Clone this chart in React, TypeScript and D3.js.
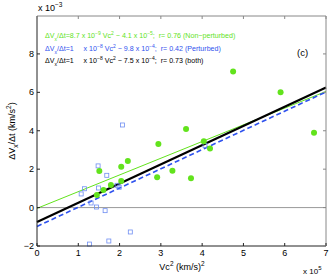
import { useRef, useEffect } from 'react'
import * as d3 from 'd3'

// x in units of 1e5 (km/s)^2, y in units of 1e-3 km/s^2
const greenX = [4.75, 5.9, 3.61, 6.71, 2.94, 4.04, 4.19, 2.2, 2.04, 1.51, 3.28, 2.91, 3.73, 2.04, 1.79, 1.61, 1.45]
const greenY = [7.08, 6.0, 4.09, 3.9, 3.31, 3.45, 3.07, 2.43, 2.13, 1.91, 1.92, 1.58, 1.53, 1.39, 1.18, 0.92, 0.66]
const blueX = [2.07, 1.48, 1.69, 1.15, 1.49, 1.07, 1.94, 1.99, 4.07, 1.31, 1.44, 1.65, 2.26, 1.27, 1.74]
const blueY = [4.3, 2.17, 1.68, 0.98, 1.02, 0.71, 1.16, 1.06, 3.24, 0.24, 0.03, -0.16, -1.27, -1.9, -1.74]

// fits: slope (1e-3 per 1e5) and intercept (1e-3)
const fitNames = ['green', 'blue', 'black']
const fitSlope = [0.87, 1.0, 1.0]
const fitIntercept = [-0.041, -0.98, -0.75]

const xTicks = [0, 1, 2, 3, 4, 5, 6, 7]
const yTicks = [-2, 0, 2, 4, 6, 8]

const GREEN = '#62e31c'
const BLUE = '#2f52ee'
const BLUE_SQ = '#6f8ef2'

const App = () => {
  const ref = useRef<SVGSVGElement>(null)

  useEffect(() => {
    const svg = d3.select(ref.current)
    svg.selectAll('*').remove()
    const left = 37, right = 326, top = 16, bottom = 246
    const x = d3.scaleLinear().domain([0, 7]).range([left, right])
    const y = d3.scaleLinear().domain([-2, 10]).range([bottom, top - 0.5])
    const font = 'Liberation Sans, Arial, sans-serif'

    svg.append('rect').attr('width', 332).attr('height', 276).attr('fill', '#fff')

    // zero line
    svg.append('line')
      .attr('x1', left).attr('x2', right)
      .attr('y1', y(0)).attr('y2', y(0))
      .attr('stroke', '#999').attr('stroke-width', 1)

    // fit lines
    const colors: Record<string, string> = { green: GREEN, blue: BLUE, black: '#000' }
    fitNames.forEach((n, i) => {
      svg.append('line')
        .attr('x1', x(0)).attr('y1', y(fitIntercept[i]))
        .attr('x2', x(7)).attr('y2', y(fitSlope[i] * 7 + fitIntercept[i]))
        .attr('stroke', colors[n])
        .attr('stroke-width', n === 'black' ? 2.2 : n === 'blue' ? 1.6 : 1)
        .attr('stroke-dasharray', n === 'blue' ? '5,3' : null)
    })

    // blue squares
    svg.selectAll('rect.sq')
      .data(blueX)
      .enter().append('rect')
      .attr('class', 'sq')
      .attr('x', (d) => x(d) - 2)
      .attr('y', (d, i) => y(blueY[i]) - 2)
      .attr('width', 4).attr('height', 4)
      .attr('fill', 'none').attr('stroke', BLUE_SQ).attr('stroke-width', 0.8)

    // green dots
    svg.selectAll('circle.g')
      .data(greenX)
      .enter().append('circle')
      .attr('class', 'g')
      .attr('cx', (d) => x(d))
      .attr('cy', (d, i) => y(greenY[i]))
      .attr('r', 3)
      .attr('fill', GREEN)

    // box
    svg.append('line').attr('x1', left).attr('x2', right).attr('y1', top).attr('y2', top).attr('stroke', '#888')
    svg.append('line').attr('x1', right).attr('x2', right).attr('y1', top).attr('y2', bottom).attr('stroke', '#888')
    svg.append('line').attr('x1', left).attr('x2', right).attr('y1', bottom).attr('y2', bottom).attr('stroke', '#222')
    svg.append('line').attr('x1', left).attr('x2', left).attr('y1', top).attr('y2', bottom).attr('stroke', '#222')

    // x ticks
    xTicks.forEach((t) => {
      svg.append('line').attr('x1', x(t)).attr('x2', x(t)).attr('y1', bottom).attr('y2', bottom - 3).attr('stroke', '#222')
      svg.append('line').attr('x1', x(t)).attr('x2', x(t)).attr('y1', top).attr('y2', top + 3).attr('stroke', '#888')
      svg.append('text').attr('x', x(t)).attr('y', bottom + 10)
        .attr('text-anchor', 'middle').attr('font-family', font).attr('font-size', 9)
        .text(t)
    })
    yTicks.forEach((t) => {
      svg.append('line').attr('x1', left).attr('x2', left + 3).attr('y1', y(t)).attr('y2', y(t)).attr('stroke', '#222')
      svg.append('line').attr('x1', right).attr('x2', right - 3).attr('y1', y(t)).attr('y2', y(t)).attr('stroke', '#888')
      svg.append('text').attr('x', left - 3).attr('y', y(t) + 3)
        .attr('text-anchor', 'end').attr('font-family', font).attr('font-size', 9)
        .text(t < 0 ? '\u2212' + Math.abs(t) : t)
    })

    // exponents
    const ex = svg.append('text').attr('x', 38).attr('y', 11).attr('font-family', font).attr('font-size', 9)
    ex.append('tspan').text('x 10')
    ex.append('tspan').attr('dy', -4).attr('font-size', 6.5).text('\u22123')
    const ex5 = svg.append('text').attr('x', 303).attr('y', 274).attr('font-family', font).attr('font-size', 8)
    ex5.append('tspan').text('x 10')
    ex5.append('tspan').attr('dy', -4).attr('font-size', 6).text('5')

    // axis labels
    const xl = svg.append('text').attr('x', 182).attr('y', 270).attr('text-anchor', 'middle')
      .attr('font-family', font).attr('font-size', 9)
    xl.append('tspan').text('Vc')
    xl.append('tspan').attr('dy', -4).attr('font-size', 6.5).text('2')
    xl.append('tspan').attr('dy', 4).text(' (km/s)')
    xl.append('tspan').attr('dy', -4).attr('font-size', 6.5).text('2')

    const yl = svg.append('text').attr('transform', 'translate(15,131) rotate(-90)')
      .attr('text-anchor', 'middle').attr('font-family', font).attr('font-size', 9)
    yl.append('tspan').text('\u0394V')
    yl.append('tspan').attr('dy', 3).attr('font-size', 6.5).text('x')
    yl.append('tspan').attr('dy', -3).text('/\u0394t (km/s')
    yl.append('tspan').attr('dy', -4).attr('font-size', 6.5).text('2')
    yl.append('tspan').attr('dy', 4).text(')')

    svg.append('text').attr('x', 297).attr('y', 56).attr('font-family', font).attr('font-size', 9.5).text('(c)')

    // legend lines
    const legend = [
      { color: GREEN, y: 38, a: '8.7', ea: '\u22129', b: '4.1', eb: '\u22125', r: '0.76 (Non\u2212perturbed)' },
      { color: BLUE, y: 51, a: '1    ', ea: '\u22128', b: '9.8', eb: '\u22124', r: '0.42 (Perturbed)' },
      { color: '#000', y: 63, a: '1    ', ea: '\u22128', b: '7.5', eb: '\u22124', r: '0.73 (both)' },
    ]
    legend.forEach((l) => {
      const t = svg.append('text').attr('x', 45).attr('y', l.y).attr('font-family', font)
        .attr('font-size', 7.1).attr('fill', l.color).attr('xml:space', 'preserve')
      t.append('tspan').text('\u0394V')
      t.append('tspan').attr('dy', 2.5).attr('font-size', 5).text('x')
      t.append('tspan').attr('dy', -2.5).text(`/\u0394t=${l.a} x 10`)
      t.append('tspan').attr('dy', -3).attr('font-size', 5).text(l.ea)
      t.append('tspan').attr('dy', 3).text(' Vc')
      t.append('tspan').attr('dy', -3).attr('font-size', 5).text('2')
      t.append('tspan').attr('dy', 3).text(` \u2212 ${l.b} x 10`)
      t.append('tspan').attr('dy', -3).attr('font-size', 5).text(l.eb)
      t.append('tspan').attr('dy', 3).text(`;  r= ${l.r}`)
    })
  }, [])

  return (
    <svg ref={ref} width={332} height={276} style={{ position: 'absolute', left: 0, top: 0 }}></svg>
  )
}

export default App
